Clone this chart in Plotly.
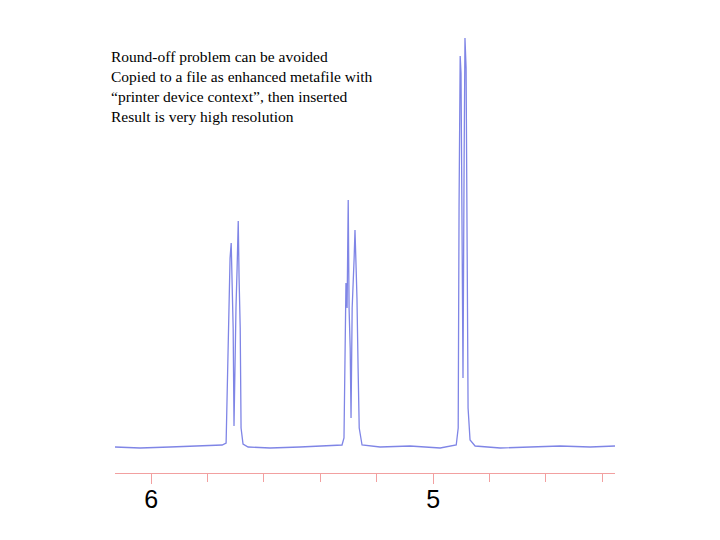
import plotly.graph_objects as go

# spectrum trace: chemical shift (ppm) and intensity (arb.)
ppm = [6.128, 6.039, 5.933, 5.826, 5.748, 5.734, 5.723, 5.720, 5.716, 5.713, 5.709, 5.706, 5.702, 5.699, 5.695, 5.691,
       5.688, 5.684, 5.681, 5.674, 5.656, 5.578, 5.472, 5.365, 5.323, 5.316, 5.312, 5.309, 5.305, 5.301, 5.298, 5.294,
       5.291, 5.287, 5.280, 5.277, 5.273, 5.270, 5.266, 5.262, 5.252, 5.188, 5.082, 4.975, 4.918, 4.911, 4.908, 4.904,
       4.901, 4.897, 4.894, 4.890, 4.887, 4.883, 4.879, 4.876, 4.869, 4.851, 4.762, 4.656, 4.550, 4.443, 4.355]
intensity = [26, 25, 26, 27, 28, 30, 165, 215, 230, 195, 145, 47, 135, 165, 205, 252,
             195, 145, 45, 29, 26, 25, 26, 27, 28, 35, 115, 190, 165, 273, 165, 125,
             55, 165, 215, 243, 205, 175, 105, 45, 28, 26, 27, 25, 28, 45, 265, 417,
             400, 245, 95, 315, 435, 405, 215, 65, 33, 27, 25, 26, 27, 26, 27]

fig = go.Figure(go.Scatter(x=ppm, y=intensity, mode="lines",
                           line=dict(color="#7f85e6", width=1.3), hoverinfo="skip"))

fig.update_layout(
    width=720, height=540, paper_bgcolor="white", plot_bgcolor="white",
    margin=dict(l=107, r=113, t=20, b=75), showlegend=False,
    xaxis=dict(range=[6.128, 4.355], showgrid=False, zeroline=False,
               showline=True, linecolor="#f2a0a0", linewidth=1,
               tickvals=[6, 5], ticktext=["6", "5"], ticks="outside", ticklen=10,
               ticklabelstandoff=-6,
               tickcolor="#f2a0a0", tickfont=dict(family="Liberation Sans", size=25, color="black"),
               minor=dict(dtick=0.2, tick0=6, ticks="outside", ticklen=8, tickcolor="#f2a0a0")),
    yaxis=dict(range=[0, 445], visible=False),
)
fig.add_annotation(xref="paper", yref="paper", xanchor="left", yanchor="top",
                   x=(101 - 107) / 500, y=(465 - 38) / 445, showarrow=False, align="left",
                   text="Round-off problem can be avoided<br>Copied to a file as enhanced metafile with<br>“printer device context”, then inserted<br>Result is very high resolution",
                   font=dict(family="Liberation Serif", size=15.5, color="black"))
fig.write_html("out.html")
